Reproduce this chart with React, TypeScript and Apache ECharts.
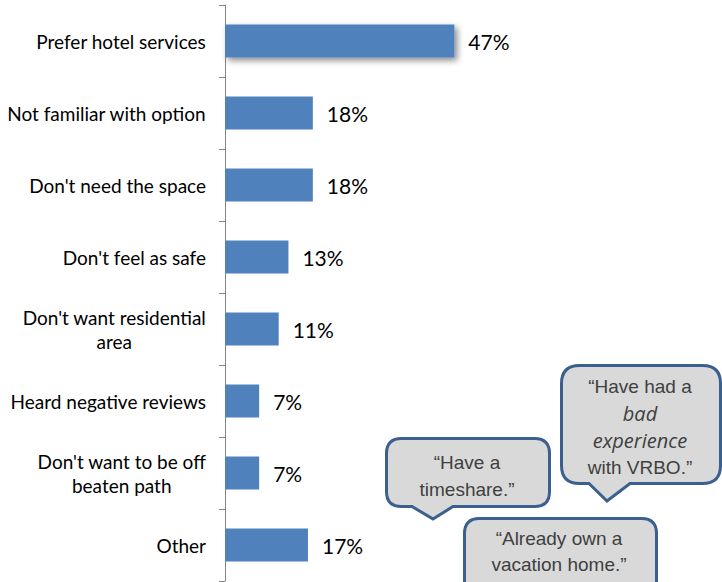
import React, { useEffect, useRef } from "react";
import * as echarts from "echarts";

const categories = [
  "Prefer hotel services",
  "Not familiar with option",
  "Don't need the space",
  "Don't feel as safe",
  "Don't want residential\narea",
  "Heard negative reviews",
  "Don't want to be off\nbeaten path",
  "Other",
];
const values = [47, 18, 18, 13, 11, 7, 7, 17];

const quoteTimeshare = ["\u201CHave a", "timeshare.\u201D"];
const quoteVrbo = ["\u201CHave had a", "bad", "experience", "with VRBO.\u201D"];
const quoteVacation = ["\u201CAlready own a", "vacation home.\u201D"];

function bubblePath(l: number, t: number, r: number, b: number, rad: number, p1: number, tx: number, ty: number, p2: number) {
  return `M${l + rad},${t} H${r - rad} Q${r},${t} ${r},${t + rad} V${b - rad} Q${r},${b} ${r - rad},${b} H${p2} L${tx},${ty} L${p1},${b} H${l + rad} Q${l},${b} ${l},${b - rad} V${t + rad} Q${l},${t} ${l + rad},${t} Z`;
}

let registered = false;
function registerShapes() {
  if (registered) return;
  registered = true;
  echarts.graphic.registerShape("bubbleA", echarts.graphic.extendPath(bubblePath(386.5, 438.5, 549.5, 506.5, 15, 412, 433, 519, 453), {}) as any);
  echarts.graphic.registerShape("bubbleB", echarts.graphic.extendPath(bubblePath(561.5, 365.5, 720.5, 483.5, 18, 589, 607, 501, 630), {}) as any);
  echarts.graphic.registerShape("bubbleC", echarts.graphic.extendPath(bubblePath(464.5, 518.5, 656.5, 620, 15, 540, 560, 640, 580), {}) as any);
}

const bubbleStyle = { fill: "#d9d9d9", stroke: "#3b5f8f", lineWidth: 3 };
const quoteFont = "Liberation Sans";
const italicFont = "Open Sans";

function textLines(lines: string[], cx: number, ys: number[], italicIdx: number[] = []) {
  return lines.map((t, i) => ({
    type: "text",
    z: 110,
    style: {
      text: t,
      x: cx,
      y: ys[i],
      align: "center",
      verticalAlign: "middle",
      fill: "#404040",
      fontFamily: italicIdx.includes(i) ? italicFont : quoteFont,
      fontStyle: italicIdx.includes(i) ? "italic" : "normal",
      fontSize: italicIdx.includes(i) ? 20 : 19,
    },
  }));
}

export default function App() {
  const ref = useRef<HTMLDivElement>(null);
  useEffect(() => {
    if (!ref.current) return;
    registerShapes();
    const chart = echarts.init(ref.current, undefined, { renderer: "svg" });
    chart.setOption({
      animation: false,
      grid: { left: 225, top: 5, width: 244, height: 576 },
      xAxis: { type: "value", min: 0, max: 50, show: false },
      yAxis: {
        type: "category",
        inverse: true,
        data: categories,
        axisLine: { show: true, lineStyle: { color: "#868686", width: 1 } },
        axisTick: { show: true, length: 6, lineStyle: { color: "#868686" } },
        axisLabel: {
          margin: 19,
          color: "#000",
          fontFamily: "Lato",
          fontSize: 19,
          lineHeight: 24,
          formatter: (v: string) => `{c|${v}}`,
          rich: { c: { align: "center", fontFamily: "Lato", fontSize: 19, lineHeight: 24, color: "#000" } },
        },
      },
      series: [
        {
          type: "bar",
          barWidth: 33,
          data: values.map((v, i) =>
            i === 0
              ? { value: v, itemStyle: { shadowBlur: 6, shadowOffsetX: 3, shadowOffsetY: 3, shadowColor: "rgba(0,0,0,0.45)" } }
              : v
          ),
          itemStyle: { color: "#4f81bd" },
          label: {
            show: true,
            position: "right",
            distance: 14,
            formatter: (p: any) => `${p.value}%`,
            color: "#000",
            fontFamily: "Lato",
            fontSize: 21,
          },
        },
      ],
      graphic: [
        { type: "bubbleA", z: 100, style: bubbleStyle },
        ...textLines(quoteTimeshare, 467, [462, 489]),
        { type: "bubbleB", z: 100, style: bubbleStyle },
        ...textLines(quoteVrbo, 640, [386, 413, 440, 467], [1, 2]),
        { type: "bubbleC", z: 100, style: bubbleStyle },
        ...textLines(quoteVacation, 559, [538, 564]),
      ],
    });
    return () => chart.dispose();
  }, []);
  return <div ref={ref} style={{ position: "absolute", left: 0, top: 0, width: 722, height: 582 }} />;
}
